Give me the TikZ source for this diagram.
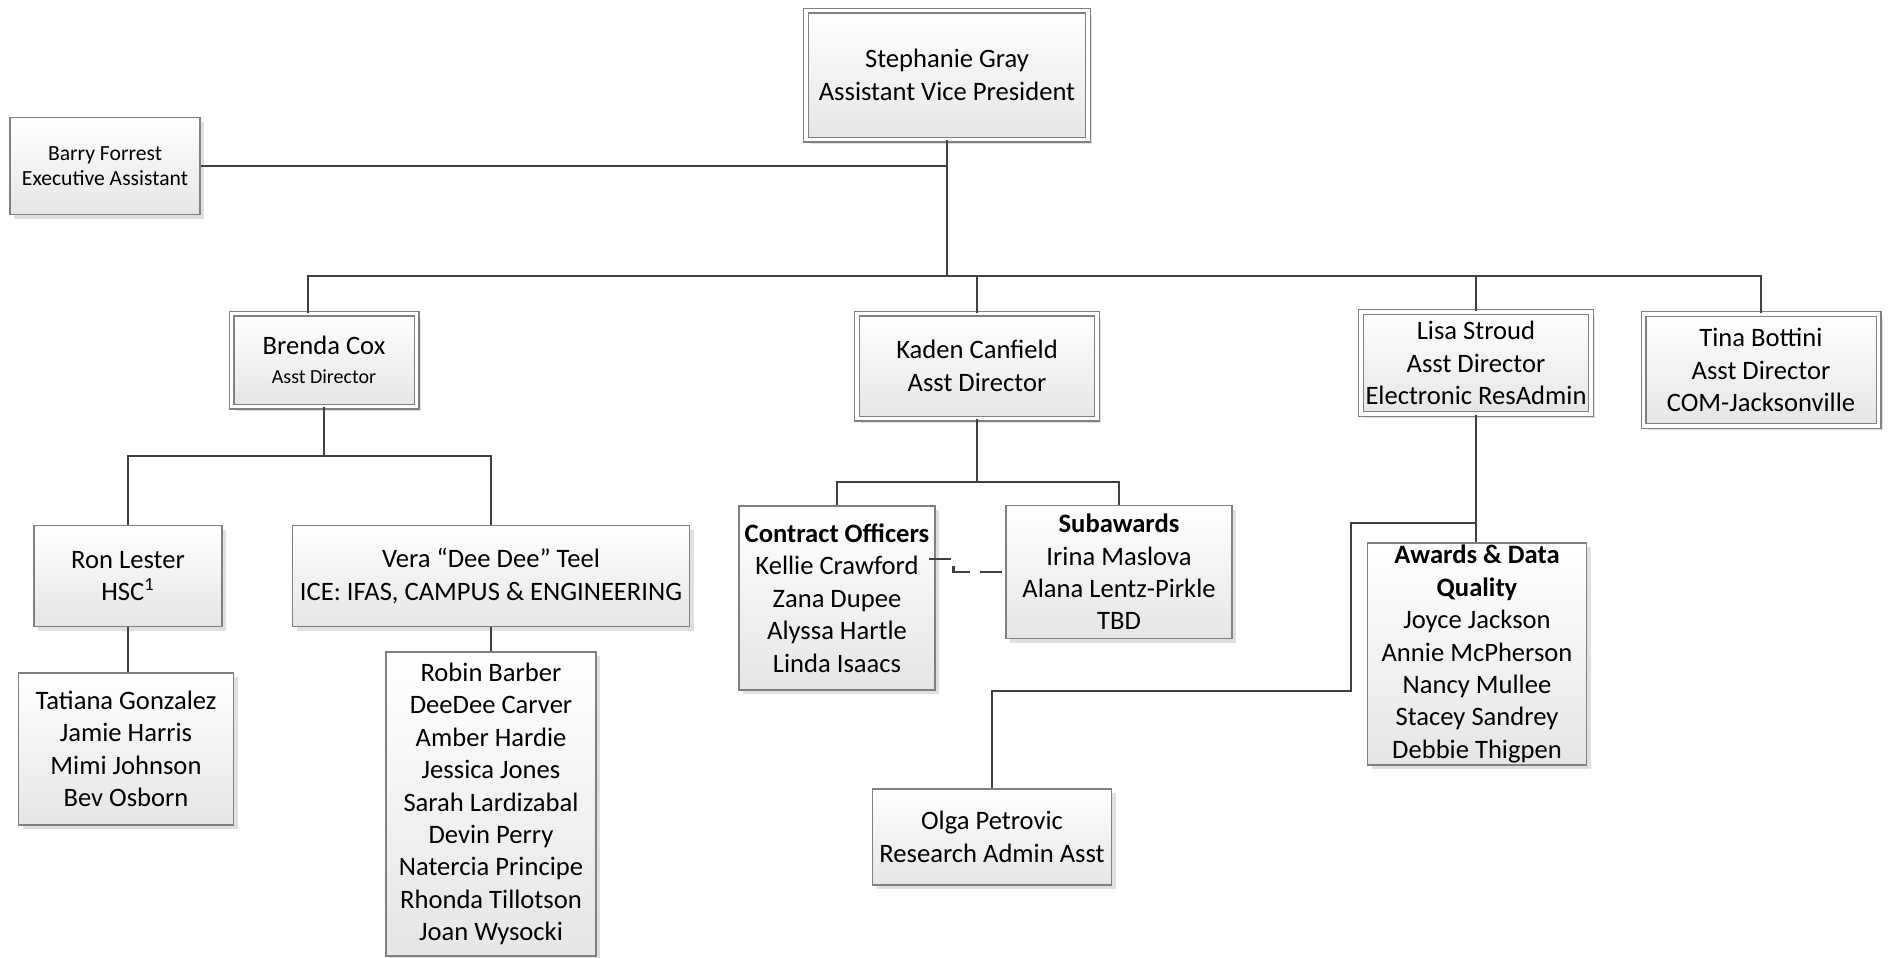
\documentclass[tikz,border=0pt]{standalone}
\usepackage{fontspec}
\setmainfont{Carlito}
\usepackage{tikz}
\usetikzlibrary{shadows,calc}

\begin{document}
\begin{tikzpicture}
[x=0.5pt,y=-0.5pt,
box/.style={draw=black!50,line width=0.6pt,top color=white,bottom color=black!10,align=center,inner sep=1pt,font=\fontsize{13.3}{16.2}\selectfont,drop shadow={shadow xshift=2pt,shadow yshift=-2pt,fill=black!12,opacity=1}},
topbox/.style={box,double=white,double distance=1.8pt},
link/.style={draw=black!75,line width=1.2pt},]
\useasboundingbox (0,0) rectangle (1891,958);

%Top level
\node (sg) at (947,75)[topbox,minimum width=141pt,minimum height=64.5pt] {Stephanie Gray\\Assistant Vice President};
\node (bf) at (105,166)[box,minimum width=95pt,minimum height=48.5pt,font=\fontsize{10.8}{12.5}\selectfont] {Barry Forrest\\Executive Assistant};

%Assistant directors
\node (br) at (324,360)[topbox,minimum width=92.5pt,minimum height=46.5pt] {Brenda Cox\\[-2pt]{\fontsize{10}{12}\selectfont Asst Director}};
\node (kc) at (977,366)[topbox,minimum width=120pt,minimum height=52.5pt] {Kaden Canfield\\Asst Director};
\node (ls) at (1476,363)[topbox,minimum width=115pt,minimum height=51pt] {Lisa Stroud\\Asst Director\\Electronic ResAdmin};
\node (ts) at (1761,370)[topbox,minimum width=117.5pt,minimum height=56pt] {Tina Bottini\\Asst Director\\COM-Jacksonville};

%Brenda's teams
\node (rl) at (128,576)[box,minimum width=94pt,minimum height=50.5pt] {Ron Lester\\HSC\textsuperscript{1}};
\node (vt) at (491,576)[box,minimum width=198.5pt,minimum height=50.5pt] {Vera “Dee Dee” Teel\\ICE: IFAS, CAMPUS \& ENGINEERING};
\node (tg) at (126,749)[box,minimum width=107.5pt,minimum height=76pt] {Tatiana Gonzalez\\Jamie Harris\\Mimi Johnson\\Bev Osborn};
\node (rb) at (491,804)[box,minimum width=105pt,minimum height=152pt] {Robin Barber\\DeeDee Carver\\Amber Hardie\\Jessica Jones\\Sarah Lardizabal\\Devin Perry\\Natercia Principe\\Rhonda Tillotson\\Joan Wysocki};

%Kaden's teams
\node (co) at (837,598)[box,minimum width=98pt,minimum height=92pt] {\textbf{Contract Officers}\\Kellie Crawford\\Zana Dupee\\Alyssa Hartle\\Linda Isaacs};
\node (sa) at (1119,572)[box,minimum width=113pt,minimum height=66.5pt] {\textbf{Subawards}\\Irina Maslova\\Alana Lentz-Pirkle\\TBD};

%Lisa's teams
\node (ad) at (1477,654)[box,minimum width=109.5pt,minimum height=111pt] {\textbf{Awards \& Data}\\\textbf{Quality}\\Joyce Jackson\\Annie McPherson\\Nancy Mullee\\Stacey Sandrey\\Debbie Thigpen};
\node (op) at (992,837)[box,minimum width=119.5pt,minimum height=48pt] {Olga Petrovic\\Research Admin Asst};

%Bus lines
\coordinate (bus) at (0,276);
\coordinate (bbus) at (0,456);
\coordinate (kbus) at (0,482);
\coordinate (lbranch) at (1476,523);
\coordinate (lbend) at (1351,691);

%Drawing connectors
\draw[link] (bf.east) -- (bf.east -| sg.south);
\draw[link] (sg.south) -- (sg.south |- bus);
\draw[link] ([xshift=-8pt]br.north) |- (bus -| ts.north) -- (ts.north);
\draw[link] (kc.north) -- (kc.north |- bus);
\draw[link] (ls.north) -- (ls.north |- bus);

\draw[link] (br.south) -- (br.south |- bbus);
\draw[link] (rl.north) |- (bbus -| vt.north) -- (vt.north);
\draw[link] (rl.south) -- (rl.south |- tg.north);
\draw[link] (vt.south) -- (vt.south |- rb.north);

\draw[link] (kc.south) -- (kc.south |- kbus);
\draw[link] (co.north) |- (kbus -| sa.north) -- (sa.north);
\draw[link,dash pattern=on 11pt off 5pt] ([xshift=-3.5pt,yshift=19.5pt]co.east) -- ++(25,0) |- (sa.west);

\draw[link] (ls.south) -- (ls.south |- ad.north);
\draw[link] (lbranch) -| (lbend) -| (op.north);
\end{tikzpicture}
\end{document}
